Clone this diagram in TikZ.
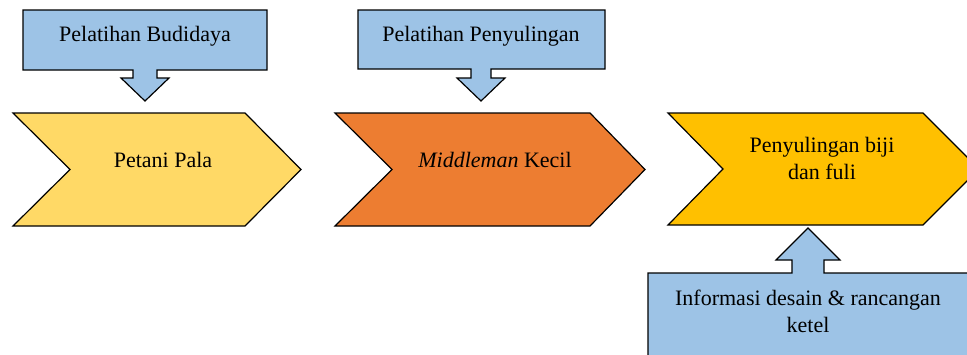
\documentclass[tikz,border=0pt]{standalone}
\usepackage{fontspec}
\setmainfont{Liberation Serif}
\definecolor{calloutblue}{HTML}{9DC3E6}
\definecolor{palayellow}{HTML}{FFD966}
\definecolor{midorange}{HTML}{ED7D31}
\definecolor{destgold}{HTML}{FFC000}
\begin{document}
\begin{tikzpicture}[x=1pt,y=-1pt,
	outline/.style={draw=black,line width=1.2pt,line join=miter},
	txt/.style={font=\fontsize{22}{27}\selectfont,align=center,anchor=base,inner sep=0pt}]
			\useasboundingbox (0,0) rectangle (967,354);
			\clip (0,0) rectangle (967,354);
			% callouts
			\draw[outline,fill=calloutblue] (23,10) -- (267,10) -- (267,70) -- (157,70) -- (157,78) -- (169,78) -- (145,101) -- (121,78) -- (133,78) -- (133,70) -- (23,70) -- cycle;
			\draw[outline,fill=calloutblue] (358,10) -- (605,10) -- (605,69) -- (491,69) -- (491,78) -- (505,78) -- (481,101) -- (457,78) -- (471,78) -- (471,69) -- (358,69) -- cycle;
			\draw[outline,fill=calloutblue] (648,380) -- (648,273) -- (792,273) -- (792,260) -- (776,260) -- (808,228) -- (840,260) -- (824,260) -- (824,273) -- (985,273) -- (985,380);
			% chevrons
			\draw[outline,fill=palayellow] (13,113) -- (245,113) -- (301,169.5) -- (245,226) -- (13,226) -- (70,169.5) -- cycle;
			\draw[outline,fill=midorange] (335,113) -- (590,113) -- (645,169.5) -- (590,226) -- (335,226) -- (392,169.5) -- cycle;
			\draw[outline,fill=destgold] (668,113) -- (923,113) -- (979,169) -- (923,225) -- (668,225) -- (723,169) -- cycle;
			% texts (base = last line)
			\node[txt] (budidaya) at (145,41) {Pelatihan Budidaya};
			\node[txt] (penyulingan) at (481,41) {Pelatihan Penyulingan};
			\node[txt] (petani) at (163,167) {Petani Pala};
			\node[txt] (middleman) at (495,167) {\textit{Middleman} Kecil};
			\node[txt] (biji) at (822,179) {Penyulingan biji\\dan fuli};
			\node[txt] (ketel) at (808,332) {Informasi desain \& rancangan\\ketel};
\end{tikzpicture}
\end{document}
